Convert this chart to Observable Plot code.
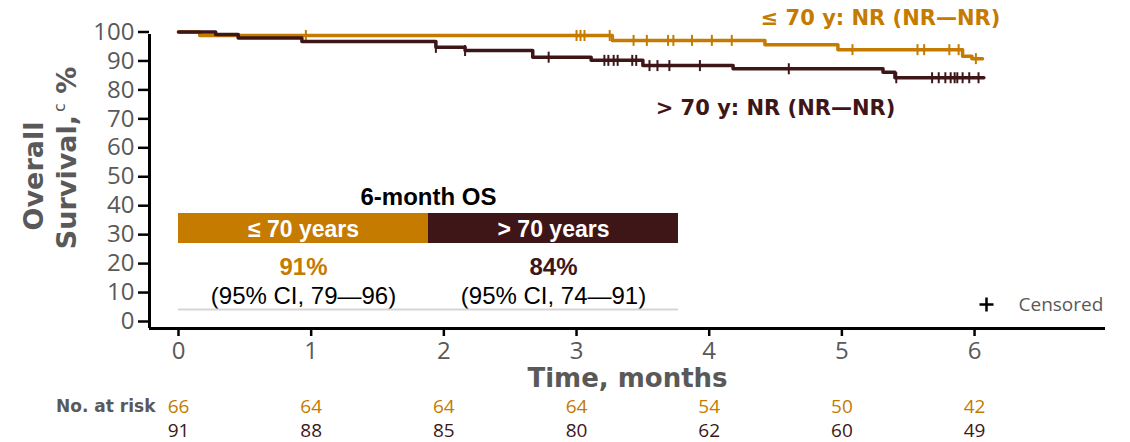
<!DOCTYPE html>
<html>
<head>
<meta charset="utf-8">
<script src="https://cdn.jsdelivr.net/npm/d3@7"></script>
<script src="https://cdn.jsdelivr.net/npm/@observablehq/plot@0.6"></script>
<style>
  html, body { margin: 0; padding: 0; background: #fff; }
  #chart svg { display: block; }
</style>
</head>
<body>
<div id="chart"></div>
<script>
// ---------- data ----------
const groups = ["≤ 70 y", "> 70 y"];
// ≤ 70 years KM steps (months, % surviving); last entry = end of follow-up
const le70Times = [0, 0.16, 3.27, 4.42, 4.97, 5.91, 5.98, 6.06];
const le70Surv  = [100, 98.8, 97.1, 95.6, 93.9, 91.6, 90.8, 90.8];
const le70Censor = [0.96, 3.00, 3.03, 3.06, 3.25, 3.43, 3.53, 3.69, 3.73, 3.87, 4.02, 4.17, 5.08, 5.57, 5.62, 5.81, 5.88, 6.01];
// > 70 years
const gt70Times = [0, 0.28, 0.45, 0.93, 1.94, 2.16, 2.67, 3.11, 3.50, 4.18, 5.31, 5.40, 6.07];
const gt70Surv  = [100, 99.1, 97.9, 96.7, 94.7, 93.6, 91.3, 90.2, 88.4, 87.3, 86.1, 84.2, 84.2];
const gt70Censor = [1.94, 2.16, 2.79, 3.21, 3.24, 3.28, 3.31, 3.42, 3.45, 3.55, 3.61, 3.70, 3.93, 4.60, 5.41, 5.68, 5.73, 5.78, 5.82, 5.85, 5.87, 5.91, 5.96, 6.03];
// axis ticks
const xTicks = [0, 1, 2, 3, 4, 5, 6];
const yTicks = [0, 10, 20, 30, 40, 50, 60, 70, 80, 90, 100];
// numbers at risk
const riskTimes = [0, 1, 2, 3, 4, 5, 6];
const le70Risk = [66, 64, 64, 64, 54, 50, 42];
const gt70Risk = [91, 88, 85, 80, 62, 60, 49];
// 6-month OS table
const osLabels = ["≤ 70 years", "> 70 years"];
const osValues = ["91%", "84%"];
const osCI = ["(95% CI, 79—96)", "(95% CI, 74—91)"];
const medianLabels = ["≤ 70 y: NR (NR—NR)", "> 70 y: NR (NR—NR)"];

// ---------- styling ----------
const ORANGE = "#C47B00", DARK = "#3E1618", GRAY = "#595959";
const W = 1130, H = 442;
const mL = 149, mR = 25, mT = 31.5, mB = 114;
const xmin = -0.2186, xmax = 6.987;
const ymin = -2.418, ymax = 100;
// pixel -> data helpers for annotation placement
const X = px => xmin + (px - mL) / (W - mR - mL) * (xmax - xmin);
const Y = py => ymax - (py - mT) / (H - mB - mT) * (ymax - ymin);

const stepRows = (t, s, g) => t.map((v, i) => ({t: v, s: s[i], g}));
const survAt = (t, s, x) => { let v = s[0]; for (let i = 0; i < t.length; i++) if (t[i] <= x) v = s[i]; return v; };
const le70Line = stepRows(le70Times, le70Surv, groups[0]);
const gt70Line = stepRows(gt70Times, gt70Surv, groups[1]);
const le70Cens = le70Censor.map(c => ({t: c, s: survAt(le70Times, le70Surv, c)}));
const gt70Cens = gt70Censor.map(c => ({t: c, s: survAt(gt70Times, gt70Surv, c)}));

const vbar = {draw(ctx, size) { const r = Math.sqrt(size / Math.PI); ctx.moveTo(0, -r); ctx.lineTo(0, r); }};
const plus = {draw(ctx, size) { const r = Math.sqrt(size / Math.PI); ctx.moveTo(0, -r); ctx.lineTo(0, r); ctx.moveTo(-r, 0); ctx.lineTo(r, 0); }};

const note = (str, px, py, o = {}) => Plot.text([str], {x: () => X(px), y: () => Y(py), text: d => d, ...o});

const TF = "'Liberation Sans', Arial, sans-serif";
const BF = "'DejaVu Sans', Verdana, sans-serif";
const OF = "'Open Sans', sans-serif";

const chart = Plot.plot({
  width: W, height: H,
  marginLeft: mL, marginRight: mR, marginTop: mT, marginBottom: mB,
  style: {fontFamily: OF, background: "#fff", overflow: "visible"},
  x: {domain: [xmin, xmax], axis: null},
  y: {domain: [ymin, ymax], axis: null},
  marks: [
    // axes
    Plot.axisY({ticks: yTicks, label: null, tickSize: 11, tickPadding: 4, fontSize: 24, fontFamily: OF, stroke: "#000", fill: GRAY, strokeWidth: 2.5, anchor: "left"}),
    Plot.axisX({ticks: xTicks, label: null, tickSize: 8, tickPadding: 5, fontSize: 24, fontFamily: OF, stroke: "#000", fill: GRAY, strokeWidth: 2.5, anchor: "bottom"}),
    Plot.ruleX([xmin], {y1: ymin, y2: Y(34), strokeWidth: 3}),
    Plot.ruleY([ymin], {x1: xmin, x2: xmax, strokeWidth: 3}),
    // 6-month OS table
    note("6-month OS", 428, 197, {fontFamily: TF, fontWeight: "bold", fontSize: 24, fill: "#000"}),
    Plot.rect([0, 1], {x1: i => X(178 + 250 * i), x2: i => X(428 + 250 * i), y1: () => Y(243), y2: () => Y(213), fill: i => [ORANGE, DARK][i]}),
    Plot.text([0, 1], {x: i => X(303 + 250 * i), y: () => Y(229), text: i => osLabels[i], fill: "#fff", fontFamily: TF, fontWeight: "bold", fontSize: 23}),
    Plot.text([0, 1], {x: i => X(303 + 250 * i), y: () => Y(267), text: i => osValues[i], fill: i => [ORANGE, DARK][i], fontFamily: TF, fontWeight: "bold", fontSize: 24}),
    Plot.text([0, 1], {x: i => X(303 + 250 * i), y: () => Y(296), text: i => osCI[i], fill: "#000", fontFamily: TF, fontSize: 24}),
    Plot.ruleY([0], {y: () => Y(309), x1: () => X(178), x2: () => X(678), stroke: "#D6D6D6", strokeWidth: 2}),
    // curves
    Plot.line(le70Line, {x: "t", y: "s", curve: "step-after", stroke: ORANGE, strokeWidth: 3.5}),
    Plot.dot(le70Cens, {x: "t", y: "s", symbol: vbar, r: 5.5, stroke: ORANGE, strokeWidth: 2}),
    Plot.line(gt70Line, {x: "t", y: "s", curve: "step-after", stroke: DARK, strokeWidth: 3.5}),
    Plot.dot(gt70Cens, {x: "t", y: "s", symbol: vbar, r: 5.5, stroke: DARK, strokeWidth: 2}),
    // median labels
    note(medianLabels[0], 880, 18, {fontFamily: BF, fontWeight: "bold", fontSize: 21, fill: ORANGE}),
    note(medianLabels[1], 775, 108, {fontFamily: BF, fontWeight: "bold", fontSize: 21, fill: DARK}),
    // censored legend
    Plot.dot([0], {x: () => X(986), y: () => Y(304), symbol: plus, r: 7, stroke: "#000", strokeWidth: 2.5}),
    note("Censored", 1018, 304, {textAnchor: "start", fontFamily: OF, fontSize: 19, fill: GRAY}),
    // x title
    note("Time, months", 627, 378, {fontFamily: BF, fontWeight: "bold", fontSize: 26, fill: GRAY}),
    // numbers at risk
    note("No. at risk", 155, 406, {textAnchor: "end", fontFamily: BF, fontWeight: "bold", fontSize: 17, fill: GRAY}),
    Plot.text(riskTimes, {x: d => d, y: () => Y(406), text: (d, i) => String(le70Risk[i]), fill: ORANGE, fontFamily: OF, fontSize: 19}),
    Plot.text(riskTimes, {x: d => d, y: () => Y(430), text: (d, i) => String(gt70Risk[i]), fill: DARK, fontFamily: OF, fontSize: 19})
  ]
});

// y-axis title (two rotated lines, superscript c)
const svg = d3.select(chart);
svg.append("text")
  .attr("transform", "translate(43,176) rotate(-90)")
  .attr("text-anchor", "middle")
  .attr("fill", GRAY).attr("font-family", BF).attr("font-weight", "bold").attr("font-size", 27)
  .text("Overall");
const t2 = svg.append("text")
  .attr("transform", "translate(76,158) rotate(-90)")
  .attr("text-anchor", "middle")
  .attr("fill", GRAY).attr("font-family", BF).attr("font-weight", "bold").attr("font-size", 27);
t2.append("tspan").text("Survival,");
t2.append("tspan").attr("font-size", 16).attr("font-weight", "normal").attr("dy", -11).attr("dx", 3).text("c");
t2.append("tspan").attr("dy", 11).text(" %");

document.getElementById("chart").appendChild(chart);
</script>
</body>
</html>
